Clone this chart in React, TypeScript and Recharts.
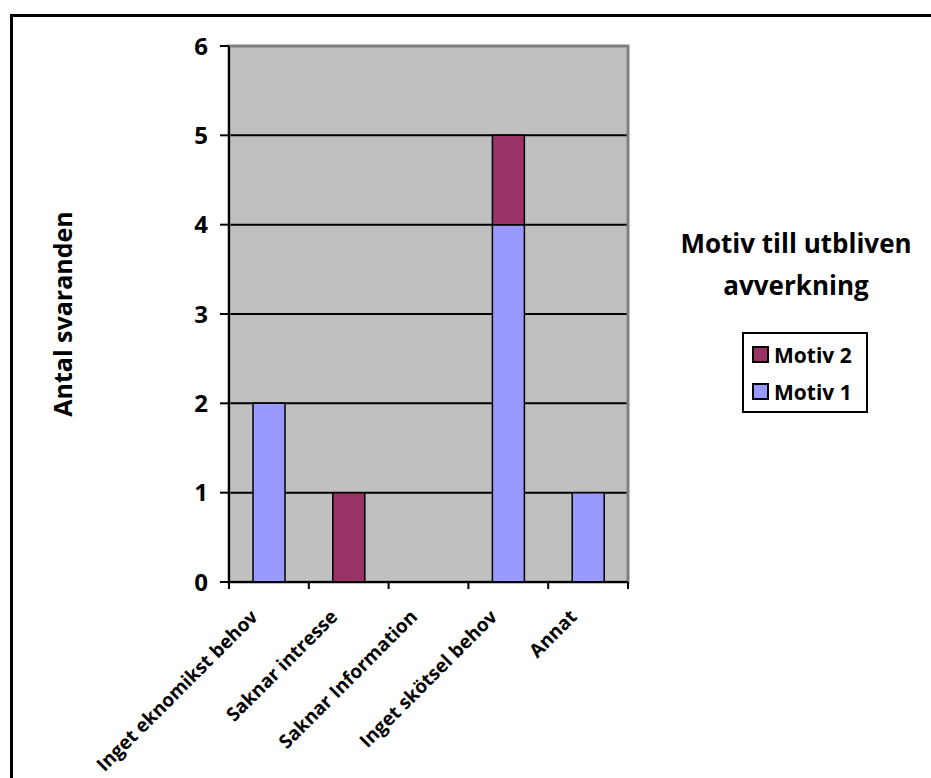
import React from 'react';
import {
  BarChart,
  Bar,
  XAxis,
  YAxis,
  CartesianGrid,
  ReferenceArea,
} from 'recharts';

const CATEGORIES = [
  'Inget eknomikst behov',
  'Saknar intresse',
  'Saknar Information',
  'Inget skötsel behov',
  'Annat',
];
const MOTIV_1 = [2, 0, 0, 4, 1];
const MOTIV_2 = [0, 1, 0, 1, 0];
const Y_TICKS = [0, 1, 2, 3, 4, 5, 6];
const SERIES = [
  { key: 'm2', label: 'Motiv 2', color: '#993366' },
  { key: 'm1', label: 'Motiv 1', color: '#9999FF' },
];

const FONT = '"Open Sans", sans-serif';

const data = CATEGORIES.map((name, i) => ({
  name,
  m1: MOTIV_1[i],
  m2: MOTIV_2[i],
}));

const PLOT_LEFT = 229;
const PLOT_RIGHT = 628;
const BAND = (PLOT_RIGHT - PLOT_LEFT) / CATEGORIES.length;

const XTick = (props: any) => {
  const { x, y, payload, index } = props;
  const isLast = index === CATEGORIES.length - 1;
  return (
    <g>
      <line x1={x - BAND / 2} y1={y} x2={x - BAND / 2} y2={y + 7} stroke="#000" strokeWidth={2} />
      {isLast && (
        <line x1={x + BAND / 2} y1={y} x2={x + BAND / 2} y2={y + 7} stroke="#000" strokeWidth={2} />
      )}
      <text
        transform={`translate(${x - 10},${y + 36}) rotate(-45)`}
        textAnchor="end"
        fontFamily={FONT}
        fontWeight={700}
        fontSize={19}
        fill="#000"
      >
        {payload.value}
      </text>
    </g>
  );
};

const LegendBox = () => (
  <div
    style={{
      position: 'absolute',
      left: 742,
      top: 332,
      border: '2px solid #000',
      background: '#fff',
      width: 126,
      height: 81,
      boxSizing: 'border-box',
      padding: '2px 0 0 8px',
      fontFamily: FONT,
      fontWeight: 700,
      fontSize: 21,
    }}
  >
    {SERIES.map((it) => (
      <div key={it.label} style={{ display: 'flex', alignItems: 'center', height: 37 }}>
        <span
          style={{
            display: 'inline-block',
            width: 13,
            height: 13,
            background: it.color,
            border: '2px solid #000',
            marginRight: 5,
          }}
        />
        <span>{it.label}</span>
      </div>
    ))}
  </div>
);

export default function App() {
  return (
    <div
      style={{
        position: 'absolute',
        left: 0,
        top: 0,
        width: 931,
        height: 778,
        overflow: 'hidden',
        background: '#fff',
      }}
    >
      <div
        style={{
          position: 'absolute',
          left: 10,
          top: 14,
          width: 960,
          height: 800,
          borderTop: '3px solid #000',
          borderLeft: '3px solid #000',
        }}
      />
      <BarChart
        width={931}
        height={778}
        data={data}
        margin={{ top: 46, right: 931 - PLOT_RIGHT, bottom: 6, left: PLOT_LEFT - 60 }}
        barSize={32}
      >
        <CartesianGrid
          vertical={false}
          fill="#C0C0C0"
          fillOpacity={1}
          stroke="#000"
          strokeWidth={2}
        />
        <ReferenceArea y1={0} y2={6} fill="none" stroke="#808080" strokeWidth={3} />
        <XAxis
          dataKey="name"
          interval={0}
          height={190}
          tickSize={0}
          tickMargin={0}
          tick={<XTick />}
          axisLine={{ stroke: '#000', strokeWidth: 2 }}
        />
        <YAxis
          width={60}
          domain={[0, 6]}
          ticks={Y_TICKS}
          interval={0}
          tickSize={9}
          tickMargin={12}
          axisLine={{ stroke: '#000', strokeWidth: 2 }}
          tickLine={{ stroke: '#000', strokeWidth: 2 }}
          tick={{ fill: '#000', fontFamily: FONT, fontWeight: 700, fontSize: 24 }}
          label={{
            value: 'Antal svaranden',
            angle: -90,
            position: 'left',
            offset: 106,
            style: { fill: '#000', fontFamily: FONT, fontWeight: 700, fontSize: 25, textAnchor: 'middle' },
          }}
        />
        {SERIES.slice()
          .reverse()
          .map((s) => (
            <Bar
              key={s.key}
              dataKey={s.key}
              name={s.label}
              stackId="a"
              fill={s.color}
              stroke="#000"
              strokeWidth={1.5}
              isAnimationActive={false}
            />
          ))}
      </BarChart>
      <LegendBox />
      <div
        style={{
          position: 'absolute',
          left: 656,
          top: 222,
          width: 280,
          textAlign: 'center',
          fontFamily: FONT,
          fontWeight: 700,
          fontSize: 26,
          lineHeight: '42px',
          color: '#000',
        }}
      >
        Motiv till utbliven
        <br />
        avverkning
      </div>
    </div>
  );
}
